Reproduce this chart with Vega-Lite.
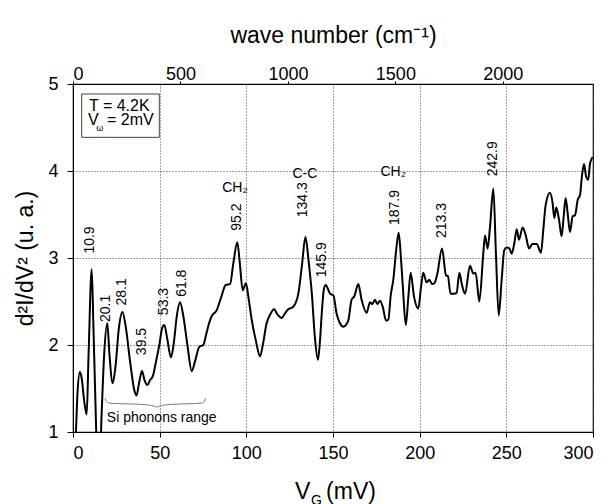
{
  "$schema": "https://vega.github.io/schema/vega-lite/v6.json",
  "width": 520,
  "height": 348,
  "autosize": {"type": "none"},
  "padding": {"left": 73, "top": 84, "right": 17, "bottom": 72},
  "background": "white",
  "config": {
    "font": "Liberation Sans",
    "view": {"stroke": "black", "strokeWidth": 1.2},
    "axis": {
      "domainColor": "black",
      "tickColor": "black",
      "labelColor": "black",
      "titleColor": "black",
      "labelFontSize": 18,
      "titleFontSize": 23,
      "titleFontWeight": "normal",
      "gridColor": "#444",
      "gridDash": [1, 2],
      "gridWidth": 1,
      "gridOpacity": 1
    }
  },
  "datasets": {
    "curve": [
      {"v":0.8,"d":0.6},{"v":1.7,"d":1.0},{"v":2.6,"d":1.45},{"v":4.0,"d":1.69},{"v":5.0,"d":1.62},{"v":6.5,"d":1.35},{"v":7.9,"d":1.2},{"v":9.0,"d":1.9},{"v":10.8,"d":2.87},{"v":11.8,"d":2.2},{"v":13.0,"d":1.3},{"v":14.0,"d":0.7},{"v":15.5,"d":0.7},{"v":16.5,"d":1.2},{"v":18.0,"d":1.9},{"v":19.8,"d":2.25},{"v":21.0,"d":1.9},{"v":22.9,"d":1.56},{"v":24.5,"d":1.75},{"v":26.5,"d":2.2},{"v":28.5,"d":2.38},{"v":30.5,"d":2.2},{"v":33.0,"d":1.8},{"v":35.5,"d":1.47},{"v":36.7,"d":1.42},{"v":38.0,"d":1.55},{"v":39.8,"d":1.7},{"v":41.2,"d":1.6},{"v":42.9,"d":1.54},{"v":44.5,"d":1.6},{"v":46.0,"d":1.64},{"v":48.0,"d":1.82},{"v":49.8,"d":2.0},{"v":51.5,"d":2.2},{"v":52.7,"d":2.23},{"v":54.3,"d":2.08},{"v":56.5,"d":1.86},{"v":58.0,"d":2.0},{"v":60.0,"d":2.35},{"v":61.7,"d":2.49},{"v":63.5,"d":2.35},{"v":66.0,"d":2.0},{"v":68.5,"d":1.7},{"v":70.5,"d":1.82},{"v":72.9,"d":1.98},{"v":75.2,"d":2.0},{"v":76.7,"d":2.11},{"v":78.5,"d":2.25},{"v":80.0,"d":2.33},{"v":82.9,"d":2.4},{"v":85.5,"d":2.55},{"v":88.1,"d":2.69},{"v":90.6,"d":2.7},{"v":92.5,"d":2.94},{"v":94.8,"d":3.18},{"v":96.2,"d":2.95},{"v":97.9,"d":2.63},{"v":99.8,"d":2.71},{"v":101.2,"d":2.55},{"v":103.1,"d":2.29},{"v":105.5,"d":2.05},{"v":107.9,"d":1.87},{"v":109.5,"d":2.0},{"v":111.7,"d":2.25},{"v":114.0,"d":2.36},{"v":116.0,"d":2.41},{"v":118.0,"d":2.35},{"v":120.4,"d":2.31},{"v":122.5,"d":2.37},{"v":124.2,"d":2.41},{"v":127.1,"d":2.44},{"v":130.0,"d":2.59},{"v":132.0,"d":2.9},{"v":134.1,"d":3.24},{"v":136.0,"d":2.95},{"v":137.8,"d":2.59},{"v":139.5,"d":2.1},{"v":141.3,"d":1.83},{"v":142.5,"d":2.05},{"v":143.5,"d":2.36},{"v":144.8,"d":2.65},{"v":145.8,"d":2.69},{"v":148.3,"d":2.59},{"v":150.2,"d":2.57},{"v":152.1,"d":2.36},{"v":154.0,"d":2.25},{"v":156.0,"d":2.21},{"v":158.8,"d":2.28},{"v":160.7,"d":2.52},{"v":162.3,"d":2.56},{"v":164.6,"d":2.7},{"v":166.5,"d":2.52},{"v":169.4,"d":2.37},{"v":171.3,"d":2.49},{"v":172.7,"d":2.47},{"v":174.2,"d":2.52},{"v":175.6,"d":2.47},{"v":177.1,"d":2.51},{"v":178.7,"d":2.44},{"v":180.6,"d":2.28},{"v":181.9,"d":2.29},{"v":183.3,"d":2.57},{"v":184.8,"d":2.75},{"v":186.5,"d":3.1},{"v":187.9,"d":3.29},{"v":189.2,"d":3.0},{"v":190.3,"d":2.67},{"v":192.0,"d":2.23},{"v":193.5,"d":2.56},{"v":194.8,"d":2.83},{"v":196.7,"d":2.56},{"v":199.2,"d":2.42},{"v":200.8,"d":2.67},{"v":202.1,"d":2.83},{"v":204.0,"d":2.72},{"v":205.6,"d":2.75},{"v":207.1,"d":2.7},{"v":208.5,"d":2.71},{"v":210.2,"d":2.82},{"v":212.9,"d":3.11},{"v":215.2,"d":2.8},{"v":216.3,"d":2.79},{"v":217.8,"d":2.59},{"v":219.8,"d":2.59},{"v":221.3,"d":2.6},{"v":222.9,"d":2.83},{"v":224.2,"d":2.71},{"v":226.2,"d":2.59},{"v":229.0,"d":2.91},{"v":231.0,"d":2.82},{"v":232.3,"d":2.83},{"v":234.4,"d":2.5},{"v":236.7,"d":3.05},{"v":237.7,"d":3.26},{"v":239.2,"d":3.11},{"v":240.6,"d":3.36},{"v":242.5,"d":3.8},{"v":244.0,"d":3.05},{"v":245.6,"d":2.34},{"v":247.3,"d":2.75},{"v":248.8,"d":3.09},{"v":250.2,"d":3.12},{"v":251.7,"d":3.11},{"v":253.1,"d":3.05},{"v":254.6,"d":3.17},{"v":256.0,"d":3.33},{"v":257.3,"d":3.21},{"v":259.4,"d":3.35},{"v":261.2,"d":3.26},{"v":263.1,"d":3.11},{"v":265.0,"d":3.16},{"v":267.5,"d":3.16},{"v":270.0,"d":3.06},{"v":271.3,"d":3.32},{"v":272.7,"d":3.61},{"v":275.2,"d":3.75},{"v":276.7,"d":3.63},{"v":277.7,"d":3.46},{"v":278.8,"d":3.58},{"v":280.4,"d":3.44},{"v":281.9,"d":3.25},{"v":283.1,"d":3.48},{"v":284.2,"d":3.69},{"v":285.4,"d":3.51},{"v":286.7,"d":3.3},{"v":288.3,"d":3.48},{"v":289.6,"d":3.49},{"v":291.2,"d":3.67},{"v":292.5,"d":3.72},{"v":293.5,"d":3.92},{"v":294.8,"d":4.08},{"v":296.0,"d":3.94},{"v":297.3,"d":3.9},{"v":298.3,"d":4.09},{"v":299.8,"d":4.16}
    ],
    "peaks": [
      {"t":"10.9","v":9.8,"d":3.207},{"t":"20.1","v":19.0,"d":2.42},{"t":"28.1","v":28.1,"d":2.61},{"t":"39.5","v":39.6,"d":2.04},{"t":"53.3","v":52.5,"d":2.5},{"t":"61.8","v":62.7,"d":2.71},{"t":"95.2","v":94.4,"d":3.47},{"t":"134.3","v":132.9,"d":3.67},{"t":"145.9","v":143.5,"d":2.98},{"t":"187.9","v":185.8,"d":3.58},{"t":"213.3","v":212.7,"d":3.43},{"t":"242.9","v":242.1,"d":4.14}
    ],
    "groups": [
      {"t":"CH₂","v":93.5,"d":3.8},{"t":"C-C","v":133.8,"d":3.96},{"t":"CH₂","v":184.8,"d":3.99},{"t":"Si phonons range","v":51.2,"d":1.157}
    ],
    "brace": [
      {"v":18.5,"d":1.39},{"v":19.2,"d":1.345},{"v":20.5,"d":1.325},{"v":46.5,"d":1.32},{"v":48.3,"d":1.27},{"v":50.1,"d":1.32},{"v":74.5,"d":1.325},{"v":75.8,"d":1.345},{"v":76.5,"d":1.39}
    ],
    "box": [{"v":5.0,"v2":49.8,"d":4.885,"d2":4.387}],
    "boxtext": [
      {"t":"T = 4.2K","v":9.2,"d":4.693,"s":16},
      {"t":"V","v":8.65,"d":4.529,"s":16},
      {"t":"ω","v":13.4,"d":4.463,"s":9},
      {"t":"= 2mV","v":19.6,"d":4.529,"s":16}
    ],
    "xtitle": [
      {"t":"V","v":128.1,"d":0.23,"s":23},
      {"t":"G","v":137.3,"d":0.16,"s":14},
      {"t":"(mV)","v":146.0,"d":0.23,"s":23}
    ],
    "top": [{"wn":0},{"wn":2419.65}]
  },
  "layer": [
    {
      "data": {"name": "top"},
      "mark": {"type": "point", "opacity": 0},
      "encoding": {
        "x": {
          "field": "wn", "type": "quantitative",
          "scale": {"domain": [0, 2419.65], "nice": false, "zero": false},
          "axis": {"orient": "top", "values": [0, 500, 1000, 1500, 2000], "format": "d", "title": "wave number (cm⁻¹)", "grid": false, "tickSize": 3, "labelPadding": -2, "titlePadding": 18, "domain": true}
        }
      }
    },
    {
      "layer": [
        {
          "data": {"name": "curve"},
          "mark": {"type": "line", "color": "black", "strokeWidth": 2, "interpolate": "monotone", "clip": true},
          "encoding": {
            "x": {
              "field": "v", "type": "quantitative",
              "scale": {"domain": [0, 300], "nice": false, "zero": false},
              "axis": {"values": [0, 50, 100, 150, 200, 250, 300], "format": "d", "title": null, "grid": true, "tickSize": 5, "labelPadding": 7}
            },
            "y": {
              "field": "d", "type": "quantitative",
              "scale": {"domain": [1, 5], "nice": false, "zero": false},
              "axis": {"values": [1, 2, 3, 4, 5], "format": "d", "title": "d²I/dV² (u. a.)", "grid": true, "tickSize": 6, "labelPadding": 9, "titlePadding": 10}
            }
          }
        },
        {
          "data": {"name": "brace"},
          "mark": {"type": "line", "color": "#777", "strokeWidth": 1, "interpolate": "basis"},
          "encoding": {
            "x": {"field": "v", "type": "quantitative"},
            "y": {"field": "d", "type": "quantitative"}
          }
        },
        {
          "data": {"name": "box"},
          "mark": {"type": "rect", "fill": "white", "stroke": "#444", "strokeWidth": 1},
          "encoding": {
            "x": {"field": "v", "type": "quantitative"},
            "x2": {"field": "v2"},
            "y": {"field": "d", "type": "quantitative"},
            "y2": {"field": "d2"}
          }
        },
        {
          "data": {"name": "boxtext"},
          "mark": {"type": "text", "align": "left", "baseline": "alphabetic", "color": "black"},
          "encoding": {
            "x": {"field": "v", "type": "quantitative"},
            "y": {"field": "d", "type": "quantitative"},
            "text": {"field": "t"},
            "size": {"field": "s", "type": "quantitative", "scale": null}
          }
        },
        {
          "data": {"name": "peaks"},
          "mark": {"type": "text", "angle": 270, "align": "center", "baseline": "middle", "fontSize": 14, "color": "black"},
          "encoding": {
            "x": {"field": "v", "type": "quantitative"},
            "y": {"field": "d", "type": "quantitative"},
            "text": {"field": "t"}
          }
        },
        {
          "data": {"name": "groups"},
          "mark": {"type": "text", "align": "center", "baseline": "middle", "fontSize": 14, "color": "black"},
          "encoding": {
            "x": {"field": "v", "type": "quantitative"},
            "y": {"field": "d", "type": "quantitative"},
            "text": {"field": "t"}
          }
        },
        {
          "data": {"name": "xtitle"},
          "mark": {"type": "text", "align": "left", "baseline": "alphabetic", "color": "black"},
          "encoding": {
            "x": {"field": "v", "type": "quantitative"},
            "y": {"field": "d", "type": "quantitative"},
            "text": {"field": "t"},
            "size": {"field": "s", "type": "quantitative", "scale": null}
          }
        }
      ]
    }
  ],
  "resolve": {"scale": {"x": "independent"}}
}
